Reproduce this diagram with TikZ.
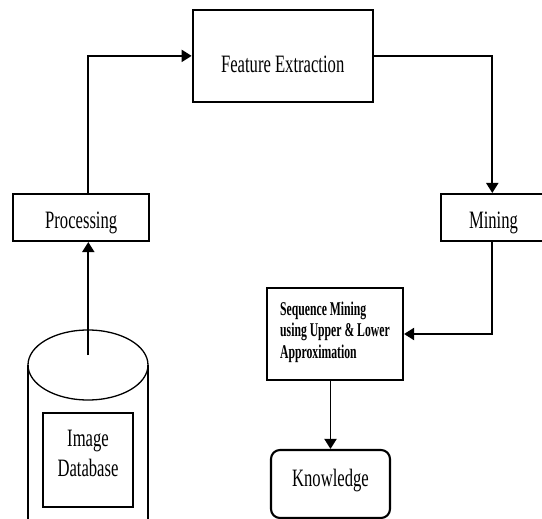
\documentclass[tikz,border=0pt]{standalone}
\usepackage{fontspec}
\usepackage{graphicx}
\setmainfont{Liberation Serif}
\usetikzlibrary{arrows.meta}
\newcommand{\nar}[1]{\scalebox{0.665}[1]{#1}}
\begin{document}
\begin{tikzpicture}[x=1pt,y=-1pt,
  box/.style={draw,line width=2.1pt,inner sep=0pt},
  lbl/.style={font=\fontsize{25}{30}\selectfont},
  arr/.style={line width=1.9pt,-{Triangle[length=10pt,width=12pt]}},
  thin/.style={line width=1.3pt}]
\useasboundingbox (0,0) rectangle (542,519);
\clip (0,0) rectangle (542,519);
% Feature Extraction
\node[box,lbl,text height=34pt,text depth=0pt,minimum width=180pt,minimum height=91.7pt] (fe) at (282.7,55.9) {\nar{Feature Extraction}};
% Processing
\node[box,lbl,text height=22.6pt,text depth=0pt,minimum width=135.7pt,minimum height=47pt] (proc) at (81.2,217.5) {\nar{Processing}};
% Mining
\node[box,lbl,text height=22.6pt,text depth=0pt,minimum width=105.6pt,minimum height=46.7pt] (mine) at (493.5,217.4) {\nar{Mining}};
% Sequence mining
\node[box,minimum width=136pt,minimum height=92pt] (seq) at (335,334) {};
\node[anchor=north west,align=left,inner sep=0pt,font=\fontsize{19.5}{21.5}\selectfont\bfseries] (seqt) at (280,301.5)
  {\scalebox{0.6}[1]{Sequence Mining}\\\scalebox{0.6}[1]{using Upper \& Lower}\\\scalebox{0.6}[1]{Approximation}};
% Knowledge
\node[box,rounded corners=9pt,lbl,text height=17pt,text depth=12pt,minimum width=119pt,minimum height=68pt] (know) at (330.5,484) {\nar{Knowledge}};
% Cylinder
\draw[thin] (28,365) -- (28,530);
\draw[thin] (148,365) -- (148,530);
\draw[thin] (88,365) ellipse [x radius=60pt,y radius=35pt];
\node[box,minimum width=90pt,minimum height=94pt] (db) at (88,460) {};
\node[lbl,align=center,inner sep=0pt] (dbtext) at (88,453.5) {\nar{Image}\\\nar{Database}};
\coordinate (cyltop) at (88.3,355);
% Connectors
\draw[arr] (cyltop) -- (cyltop |- proc.south);
\draw[arr] ([xshift=7.1pt]proc.north) |- (fe.west);
\draw[arr] (fe.east) -| ([xshift=-1.2pt]mine.north);
\draw[arr] ([xshift=-1.2pt]mine.south) |- (seq.east);
\draw[arr] (seq.south -| know.north) -- (know.north);
\end{tikzpicture}
\end{document}
